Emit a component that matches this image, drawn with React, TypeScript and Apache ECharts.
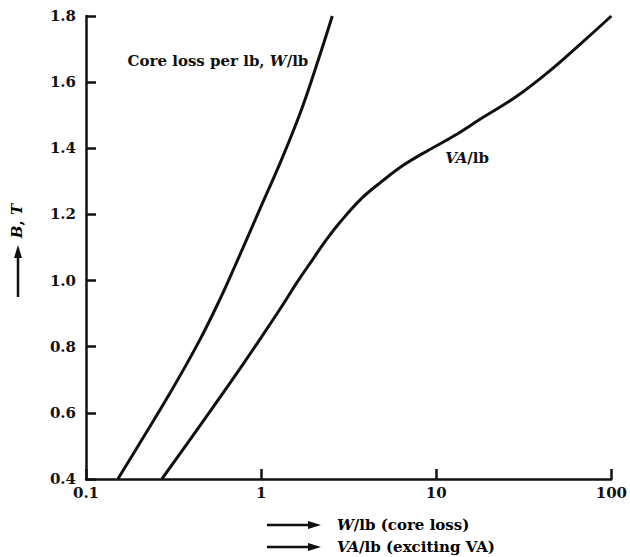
import React, { useEffect, useRef } from "react";
import * as echarts from "echarts";

// Core loss per lb (W/lb) vs flux density B (T)
const coreLossW = [0.152, 0.208, 0.309, 0.446, 0.579, 0.705, 0.978, 1.306, 1.697, 2.12, 2.55];
const coreLossB = [0.4, 0.518, 0.669, 0.82, 0.941, 1.041, 1.213, 1.365, 1.516, 1.667, 1.8];

// Exciting VA per lb vs flux density B (T)
const excitingVA = [
  0.271, 0.381, 0.543, 0.763, 1.004, 1.305, 1.61, 1.96, 2.354, 2.829, 3.725, 4.842, 6.545, 9.083, 12.6, 17.96,
  28.42, 43.78, 67.49, 100,
];
const excitingB = [
  0.4, 0.509, 0.624, 0.736, 0.829, 0.92, 0.996, 1.062, 1.123, 1.177, 1.247, 1.298, 1.35, 1.395, 1.437, 1.489,
  1.555, 1.631, 1.718, 1.8,
];

const xTickLabels = ["0.1", "1", "10", "100"];
const xRange = [0.1, 100];
const yRange = [0.4, 1.8];
const yStep = 0.2;

const coreLabelAt = [0.567, 1.664];
const vaLabelAt = [15.0, 1.371];

const FONT = "'DejaVu Serif', serif";
const INK = "#111";

export default function App() {
  const ref = useRef<HTMLDivElement>(null);

  useEffect(() => {
    if (!ref.current) return;
    const chart = echarts.init(ref.current, undefined, { renderer: "svg" });

    const rich = {
      n: { fontFamily: FONT, fontWeight: "bold", fontSize: 15, color: INK },
      i: { fontFamily: FONT, fontWeight: "bold", fontStyle: "italic", fontSize: 15, color: INK },
    };

    const core = coreLossW.map((w, i) => [w, coreLossB[i]]);
    const va = excitingVA.map((v, i) => [v, excitingB[i]]);

    const lw = 2.5;

    chart.setOption({
      animation: false,
      backgroundColor: "#fff",
      grid: { left: 86, right: 17, top: 16, bottom: 78 },
      xAxis: {
        type: "log",
        logBase: 10,
        min: xRange[0],
        max: xRange[1],
        splitLine: { show: false },
        minorTick: { show: false },
        axisLine: { onZero: false, lineStyle: { color: INK, width: lw } },
        axisTick: { inside: true, length: 10, lineStyle: { color: INK, width: lw } },
        axisLabel: {
          margin: 6,
          color: INK,
          fontFamily: FONT,
          fontWeight: "bold",
          fontSize: 15,
          formatter: (v: number) => {
            const idx = Math.round(Math.log10(v) + 1);
            return xTickLabels[idx] ?? String(v);
          },
        },
      },
      yAxis: {
        type: "value",
        min: yRange[0],
        max: yRange[1],
        interval: yStep,
        splitLine: { show: false },
        axisLine: { show: true, onZero: false, lineStyle: { color: INK, width: lw } },
        axisTick: { show: true, inside: true, length: 10, lineStyle: { color: INK, width: lw } },
        axisLabel: {
          margin: 10,
          color: INK,
          fontFamily: FONT,
          fontWeight: "bold",
          fontSize: 15,
          formatter: (v: number) => v.toFixed(1),
        },
      },
      series: [
        {
          type: "line",
          data: core,
          smooth: 0.4,
          symbol: "none",
          lineStyle: { color: INK, width: 3 },
          markPoint: {
            symbol: "circle",
            symbolSize: 1,
            itemStyle: { color: "rgba(0,0,0,0)" },
            label: {
              show: true,
              position: "inside",
              formatter: "{n|Core loss per lb, }{i|W}{n|/lb}",
              rich,
            },
            data: [{ coord: coreLabelAt }],
          },
        },
        {
          type: "line",
          data: va,
          smooth: 0.4,
          symbol: "none",
          lineStyle: { color: INK, width: 3 },
          markPoint: {
            symbol: "circle",
            symbolSize: 1,
            itemStyle: { color: "rgba(0,0,0,0)" },
            label: {
              show: true,
              position: "inside",
              formatter: "{i|VA}{n|/lb}",
              rich,
            },
            data: [{ coord: vaLabelAt }],
          },
        },
      ],
      graphic: [
        // y-axis name: arrow + "B, T"
        { type: "line", shape: { x1: 18, y1: 297, x2: 18, y2: 256 }, style: { stroke: INK, lineWidth: 2.5 } },
        { type: "polygon", shape: { points: [[18, 245], [14, 258], [22, 258]] }, style: { fill: INK } },
        {
          type: "text",
          x: 17,
          y: 221,
          rotation: Math.PI / 2,
          style: { text: "{i|B}{n|, }{i|T}", rich, align: "center", verticalAlign: "middle" },
        },
        // x-axis names
        { type: "line", shape: { x1: 267, y1: 525, x2: 310, y2: 525 }, style: { stroke: INK, lineWidth: 2.5 } },
        { type: "polygon", shape: { points: [[321, 525], [308, 521], [308, 529]] }, style: { fill: INK } },
        {
          type: "text",
          x: 337,
          y: 525,
          style: { text: "{i|W}{n|/lb (core loss)}", rich, align: "left", verticalAlign: "middle" },
        },
        { type: "line", shape: { x1: 267, y1: 547, x2: 310, y2: 547 }, style: { stroke: INK, lineWidth: 2.5 } },
        { type: "polygon", shape: { points: [[321, 547], [308, 543], [308, 551]] }, style: { fill: INK } },
        {
          type: "text",
          x: 337,
          y: 547,
          style: { text: "{i|VA}{n|/lb (exciting VA)}", rich, align: "left", verticalAlign: "middle" },
        },
      ],
    });

    return () => chart.dispose();
  }, []);

  return (
    <div
      ref={ref}
      style={{ position: "fixed", left: 0, top: 0, width: 630, height: 557, background: "#fff" }}
    />
  );
}
